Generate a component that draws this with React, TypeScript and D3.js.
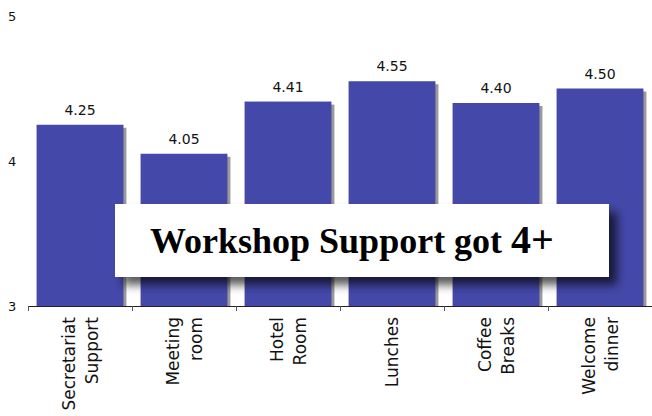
import React, { useEffect, useRef } from 'react'
import * as d3 from 'd3'

const categories = [
  ['Secretariat', 'Support'],
  ['Meeting', 'room'],
  ['Hotel', 'Room'],
  ['Lunches'],
  ['Coffee', 'Breaks'],
  ['Welcome', 'dinner'],
]
const scores = [4.25, 4.05, 4.41, 4.55, 4.4, 4.5]
const yTicks = [3, 4, 5]
const headline = ['Workshop Support got ', '4+']

const width = 652
const height = 416

export default function App() {
  const ref = useRef<SVGSVGElement | null>(null)

  useEffect(() => {
    if (!ref.current) return
    const svg = d3.select(ref.current)
    svg.selectAll('*').remove()

    const font = 'DejaVu Sans, Verdana, sans-serif'
    const x = d3
      .scaleBand<number>()
      .domain(d3.range(scores.length))
      .range([28, 652])
      .paddingInner(0.165)
      .paddingOuter(0.0825)
    const step = x.step()
    const y = d3.scaleLinear().domain([3, 5]).range([306, 16])

    const defs = svg.append('defs')
    const filter = defs
      .append('filter')
      .attr('id', 'boxShadow')
      .attr('x', '-20%')
      .attr('y', '-40%')
      .attr('width', '140%')
      .attr('height', '180%')
    filter
      .append('feDropShadow')
      .attr('dx', 8)
      .attr('dy', 8)
      .attr('stdDeviation', 5)
      .attr('flood-color', '#000')
      .attr('flood-opacity', 0.65)

    // bar shadows
    svg
      .append('g')
      .selectAll('rect')
      .data(scores)
      .join('rect')
      .attr('x', (_d, i) => (x(i) as number) + 3)
      .attr('y', (d) => y(d) + 3)
      .attr('width', x.bandwidth())
      .attr('height', (d) => y(3) - y(d) - 3)
      .attr('fill', '#999999')

    // bars
    svg
      .append('g')
      .selectAll('rect')
      .data(scores)
      .join('rect')
      .attr('x', (_d, i) => x(i) as number)
      .attr('y', (d) => y(d))
      .attr('width', x.bandwidth())
      .attr('height', (d) => y(3) - y(d))
      .attr('fill', '#4448a8')

    // value labels
    svg
      .append('g')
      .selectAll('text')
      .data(scores)
      .join('text')
      .attr('x', (_d, i) => (x(i) as number) + x.bandwidth() / 2)
      .attr('y', (d) => y(d) - 10)
      .attr('text-anchor', 'middle')
      .attr('font-family', font)
      .attr('font-size', 14)
      .attr('fill', '#111')
      .text((d) => d.toFixed(2))

    // y labels
    svg
      .append('g')
      .selectAll('text')
      .data(yTicks)
      .join('text')
      .attr('x', 8)
      .attr('y', (d) => y(d))
      .attr('dy', '0.35em')
      .attr('font-family', font)
      .attr('font-size', 13)
      .attr('fill', '#111')
      .text((d) => d)

    // x axis line and ticks
    svg
      .append('line')
      .attr('x1', 28)
      .attr('x2', 652)
      .attr('y1', y(3) + 0.5)
      .attr('y2', y(3) + 0.5)
      .attr('stroke', '#222')
    svg
      .append('g')
      .selectAll('line')
      .data(d3.range(scores.length))
      .join('line')
      .attr('x1', (i) => 28 + i * step + 0.5)
      .attr('x2', (i) => 28 + i * step + 0.5)
      .attr('y1', y(3))
      .attr('y2', y(3) + 5)
      .attr('stroke', '#555')

    // rotated category labels
    const labels = svg
      .append('g')
      .selectAll('text')
      .data(categories)
      .join('text')
      .attr('transform', (_d, i) => {
        const cx = (x(i) as number) + x.bandwidth() / 2
        return `translate(${cx},317) rotate(-90)`
      })
      .attr('text-anchor', 'end')
      .attr('font-family', font)
      .attr('font-size', 17)
      .attr('fill', '#111')
    labels
      .selectAll('tspan')
      .data((d) => d.map((t, j) => ({ t, j, n: d.length })))
      .join('tspan')
      .attr('x', 0)
      .attr('y', (d) => (d.j - (d.n - 1) / 2) * 23 + 6)
      .text((d) => d.t)

    // headline box
    svg
      .append('rect')
      .attr('x', 115)
      .attr('y', 204)
      .attr('width', 494)
      .attr('height', 73)
      .attr('fill', '#fff')
      .attr('filter', 'url(#boxShadow)')
    const title = svg
      .append('text')
      .attr('x', 150)
      .attr('y', 253)
      .attr('font-family', 'Liberation Serif, Times New Roman, serif')
      .attr('font-weight', 'bold')
      .attr('fill', '#000')
    title.append('tspan').attr('font-size', 36).text(headline[0])
    title.append('tspan').attr('font-size', 40).text(headline[1])
  }, [])

  return (
    <svg
      ref={ref}
      width={width}
      height={height}
      style={{ position: 'absolute', left: 0, top: 0, background: '#fff' }}
    />
  )
}
